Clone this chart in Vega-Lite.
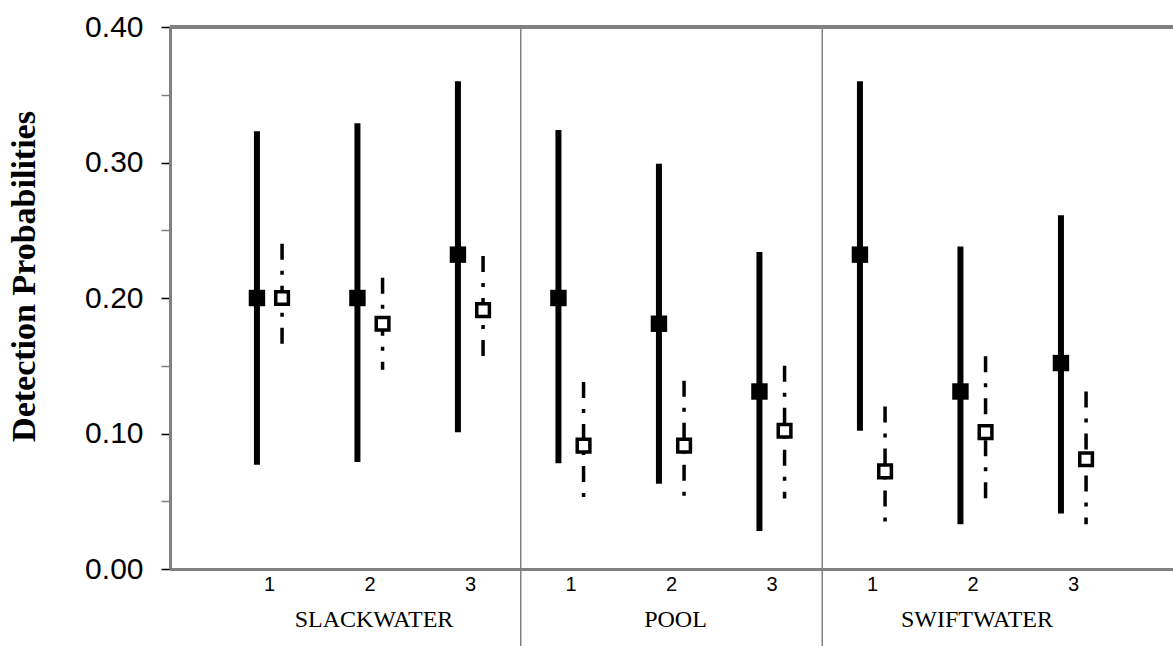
{
  "$schema": "https://vega.github.io/schema/vega-lite/v6.json",
  "autosize": "none",
  "padding": {"left": 170, "top": 27, "right": 0, "bottom": 77},
  "width": 1003,
  "height": 542,
  "background": "white",
  "config": {"view": {"stroke": null}},
  "data": {
    "values": [
      {"cat": "SLACKWATER 1", "series": "solid", "est": 0.200, "lo": 0.077, "hi": 0.323},
      {"cat": "SLACKWATER 1", "series": "open", "est": 0.200, "lo": 0.164, "hi": 0.240},
      {"cat": "SLACKWATER 2", "series": "solid", "est": 0.200, "lo": 0.079, "hi": 0.329},
      {"cat": "SLACKWATER 2", "series": "open", "est": 0.181, "lo": 0.147, "hi": 0.215},
      {"cat": "SLACKWATER 3", "series": "solid", "est": 0.232, "lo": 0.101, "hi": 0.360},
      {"cat": "SLACKWATER 3", "series": "open", "est": 0.191, "lo": 0.155, "hi": 0.231},
      {"cat": "POOL 1", "series": "solid", "est": 0.200, "lo": 0.078, "hi": 0.324},
      {"cat": "POOL 1", "series": "open", "est": 0.091, "lo": 0.049, "hi": 0.138},
      {"cat": "POOL 2", "series": "solid", "est": 0.181, "lo": 0.063, "hi": 0.299},
      {"cat": "POOL 2", "series": "open", "est": 0.091, "lo": 0.050, "hi": 0.139},
      {"cat": "POOL 3", "series": "solid", "est": 0.131, "lo": 0.028, "hi": 0.234},
      {"cat": "POOL 3", "series": "open", "est": 0.102, "lo": 0.052, "hi": 0.150},
      {"cat": "SWIFTWATER 1", "series": "solid", "est": 0.232, "lo": 0.102, "hi": 0.360},
      {"cat": "SWIFTWATER 1", "series": "open", "est": 0.072, "lo": 0.033, "hi": 0.120},
      {"cat": "SWIFTWATER 2", "series": "solid", "est": 0.131, "lo": 0.033, "hi": 0.238},
      {"cat": "SWIFTWATER 2", "series": "open", "est": 0.101, "lo": 0.049, "hi": 0.157},
      {"cat": "SWIFTWATER 3", "series": "solid", "est": 0.152, "lo": 0.041, "hi": 0.261},
      {"cat": "SWIFTWATER 3", "series": "open", "est": 0.081, "lo": 0.033, "hi": 0.131}
    ]
  },
  "encoding": {
    "x": {
      "field": "cat",
      "type": "nominal",
      "scale": {
        "domain": ["SLACKWATER 1", "SLACKWATER 2", "SLACKWATER 3", "POOL 1", "POOL 2", "POOL 3", "SWIFTWATER 1", "SWIFTWATER 2", "SWIFTWATER 3"],
        "paddingInner": 0,
        "paddingOuter": 0.49
      },
      "axis": {
        "title": null,
        "labelAngle": 0,
        "labelExpr": "split(datum.value, ' ')[1]",
        "labelFont": "Arial, Liberation Sans",
        "labelFontSize": 20,
        "labelColor": "black",
        "labelPadding": 5,
        "ticks": false,
        "domainColor": "#808080",
        "domainWidth": 3
      }
    },
    "y": {
      "type": "quantitative",
      "scale": {"domain": [0, 0.4], "nice": false, "zero": true},
      "axis": {
        "title": "Detection Probabilities",
        "titleFont": "Times New Roman, Liberation Serif",
        "titleFontSize": 34,
        "titleFontWeight": "bold",
        "titleColor": "black",
        "titleAngle": 270,
        "titleX": -136,
        "titleY": 249,
        "titleAlign": "center",
        "titleBaseline": "alphabetic",
        "values": [0, 0.05, 0.1, 0.15, 0.2, 0.25, 0.3, 0.35, 0.4],
        "labelExpr": "abs(datum.value * 10 - round(datum.value * 10)) < 0.01 ? format(datum.value, '.2f') : ''",
        "labelFont": "Arial, Liberation Sans",
        "labelFontSize": 30,
        "labelColor": "black",
        "labelPadding": 18,
        "tickSize": 9,
        "tickWidth": 1.5,
        "tickColor": {"condition": {"test": "abs(datum.value * 10 - round(datum.value * 10)) < 0.01", "value": "black"}, "value": "#808080"},
        "domainColor": "#808080",
        "domainWidth": 3,
        "grid": false
      }
    }
  },
  "layer": [
    {
      "data": {"values": [{"cat": "SLACKWATER 3"}, {"cat": "POOL 3"}]},
      "mark": {"type": "rule", "color": "#808080", "strokeWidth": 1.5, "clip": false},
      "encoding": {
        "x": {"field": "cat", "type": "nominal", "bandPosition": 1},
        "y": {"datum": 0.4},
        "y2": {"datum": -0.06}
      }
    },
    {
      "mark": {"type": "rule", "color": "#808080", "strokeWidth": 3},
      "encoding": {"x": null, "y": {"datum": 0.4}}
    },
    {
      "transform": [{"filter": "datum.series === 'solid'"}],
      "mark": {"type": "rule", "color": "black", "strokeWidth": 6},
      "encoding": {
        "xOffset": {"field": "series", "type": "nominal", "scale": {"domain": ["solid", "open"], "paddingOuter": 1.52, "paddingInner": 0}},
        "y": {"field": "hi", "type": "quantitative"},
        "y2": {"field": "lo"}
      }
    },
    {
      "transform": [{"filter": "datum.series === 'open'"}],
      "mark": {"type": "rule", "color": "black", "strokeWidth": 3.5, "strokeDash": [16, 11, 4, 11]},
      "encoding": {
        "xOffset": {"field": "series", "type": "nominal", "scale": {"domain": ["solid", "open"], "paddingOuter": 1.52, "paddingInner": 0}},
        "y": {"field": "hi", "type": "quantitative"},
        "y2": {"field": "lo"}
      }
    },
    {
      "transform": [{"filter": "datum.series === 'solid'"}],
      "mark": {"type": "point", "shape": "square", "filled": true, "color": "black", "size": 270, "opacity": 1},
      "encoding": {
        "xOffset": {"field": "series", "type": "nominal", "scale": {"domain": ["solid", "open"], "paddingOuter": 1.52, "paddingInner": 0}},
        "y": {"field": "est", "type": "quantitative"}
      }
    },
    {
      "transform": [{"filter": "datum.series === 'open'"}],
      "mark": {"type": "point", "shape": "square", "filled": false, "fill": "white", "stroke": "black", "strokeWidth": 3.5, "size": 160, "opacity": 1, "fillOpacity": 1},
      "encoding": {
        "xOffset": {"field": "series", "type": "nominal", "scale": {"domain": ["solid", "open"], "paddingOuter": 1.52, "paddingInner": 0}},
        "y": {"field": "est", "type": "quantitative"}
      }
    },
    {
      "data": {"values": [{"cat": "SLACKWATER 2", "label": "SLACKWATER"}, {"cat": "POOL 2", "label": "POOL"}, {"cat": "SWIFTWATER 2", "label": "SWIFTWATER"}]},
      "mark": {"type": "text", "font": "Times New Roman, Liberation Serif", "fontSize": 24, "color": "black", "baseline": "alphabetic", "align": "center", "dx": 4},
      "encoding": {
        "x": {"field": "cat", "type": "nominal"},
        "y": {"datum": -0.0426},
        "text": {"field": "label"}
      }
    }
  ]
}
